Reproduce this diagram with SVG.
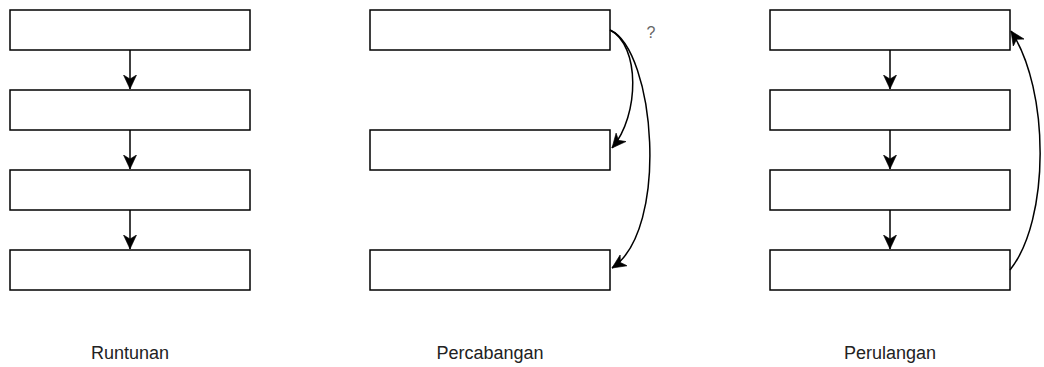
<svg xmlns="http://www.w3.org/2000/svg" width="1044" height="367" viewBox="0 0 1044 367">
<style>
.box{fill:#fff;stroke:#000;stroke-width:1.5}
.edge{fill:none;stroke:#000;stroke-width:1.5}
.lbl{font-family:"Liberation Sans",Arial,sans-serif;font-size:18px;fill:#222;text-anchor:middle}
.q{font-family:"Liberation Sans",Arial,sans-serif;font-size:16px;fill:#666;text-anchor:middle}
</style>
<defs>
<marker id="arr" viewBox="0 0 14 14" refX="14" refY="7" markerWidth="14" markerHeight="14" markerUnits="userSpaceOnUse" orient="auto">
<path d="M0,0.5 L14,7 L0,13.5 L4,7 z" fill="#000" stroke="#000" stroke-width="0.6"/>
</marker>
</defs>
<rect width="1044" height="367" fill="#fff"/>
<g id="runtunan">
<g id="r1"><rect class="box" x="10" y="10" width="240" height="40"/></g>
<g id="r2"><rect class="box" x="10" y="90" width="240" height="40"/></g>
<g id="r3"><rect class="box" x="10" y="170" width="240" height="40"/></g>
<g id="r4"><rect class="box" x="10" y="250" width="240" height="40"/></g>
<g id="r-label"><text class="lbl" x="130" y="359">Runtunan</text></g>
</g>
<g id="percabangan">
<g id="p1"><rect class="box" x="370" y="10" width="240" height="40"/></g>
<g id="p2"><rect class="box" x="370" y="130" width="240" height="40"/></g>
<g id="p3"><rect class="box" x="370" y="250" width="240" height="40"/></g>
<g id="p-label"><text class="lbl" x="490" y="359">Percabangan</text></g>
<g id="p-q"><text class="q" x="651" y="38">?</text></g>
</g>
<g id="perulangan">
<g id="l1"><rect class="box" x="770" y="10" width="240" height="40"/></g>
<g id="l2"><rect class="box" x="770" y="90" width="240" height="40"/></g>
<g id="l3"><rect class="box" x="770" y="170" width="240" height="40"/></g>
<g id="l4"><rect class="box" x="770" y="250" width="240" height="40"/></g>
<g id="l-label"><text class="lbl" x="890" y="359">Perulangan</text></g>
</g>
<g id="connectors">
<line class="edge" x1="130" y1="50" x2="130" y2="89" marker-end="url(#arr)"/>
<line class="edge" x1="130" y1="130" x2="130" y2="169" marker-end="url(#arr)"/>
<line class="edge" x1="130" y1="210" x2="130" y2="249" marker-end="url(#arr)"/>
<path class="edge" d="M610,30 C640,45 640,115 612,148" marker-end="url(#arr)"/>
<path class="edge" d="M610,30 C655,50 670,230 612,268" marker-end="url(#arr)"/>
<line class="edge" x1="890" y1="50" x2="890" y2="89" marker-end="url(#arr)"/>
<line class="edge" x1="890" y1="130" x2="890" y2="169" marker-end="url(#arr)"/>
<line class="edge" x1="890" y1="210" x2="890" y2="249" marker-end="url(#arr)"/>
<path class="edge" d="M1010,270 C1050,220 1050,90 1011,31" marker-end="url(#arr)"/>
</g>
</svg>
